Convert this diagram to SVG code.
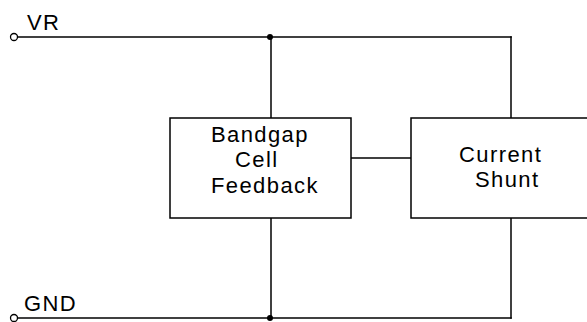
<svg xmlns="http://www.w3.org/2000/svg" width="587" height="322" viewBox="0 0 587 322">
<style>
.w{stroke:#000;stroke-width:1.5;fill:none;stroke-linecap:square}
.box{stroke:#000;stroke-width:1.5;fill:#fff}
.t{font-family:"Liberation Sans",Arial,sans-serif;font-size:22px;letter-spacing:1.4px;fill:#000}
.dot{fill:#000}
.term{fill:#fff;stroke:#000;stroke-width:1.3}
</style>
<rect width="587" height="322" fill="#fff"/>
<g id="connectors">
<line class="w" x1="18" y1="37" x2="511" y2="37"/>
<line class="w" x1="271" y1="37" x2="271" y2="118"/>
<line class="w" x1="511" y1="37" x2="511" y2="118"/>
<line class="w" x1="351" y1="158" x2="411" y2="158"/>
<line class="w" x1="271" y1="218" x2="271" y2="318"/>
<line class="w" x1="511" y1="218" x2="511" y2="318"/>
<line class="w" x1="18" y1="318" x2="511" y2="318"/>
<circle class="dot" cx="270" cy="37" r="3"/>
<circle class="dot" cx="270" cy="318" r="3"/>
</g>
<g id="VR">
<circle class="term" cx="14" cy="37" r="3.5"/>
<text class="t" x="27" y="30">VR</text>
</g>
<g id="GND">
<circle class="term" cx="14" cy="318" r="3.5"/>
<text class="t" x="24" y="311">GND</text>
</g>
<g id="bandgap">
<rect class="box" x="170" y="118" width="181" height="100"/>
<text class="t" x="211" y="141.5">Bandgap</text>
<text class="t" x="235" y="167">Cell</text>
<text class="t" x="211" y="192.5">Feedback</text>
</g>
<g id="shunt">
<rect class="box" x="411" y="118" width="200" height="100"/>
<text class="t" x="459" y="161.5">Current</text>
<text class="t" x="475" y="187">Shunt</text>
</g>
</svg>
